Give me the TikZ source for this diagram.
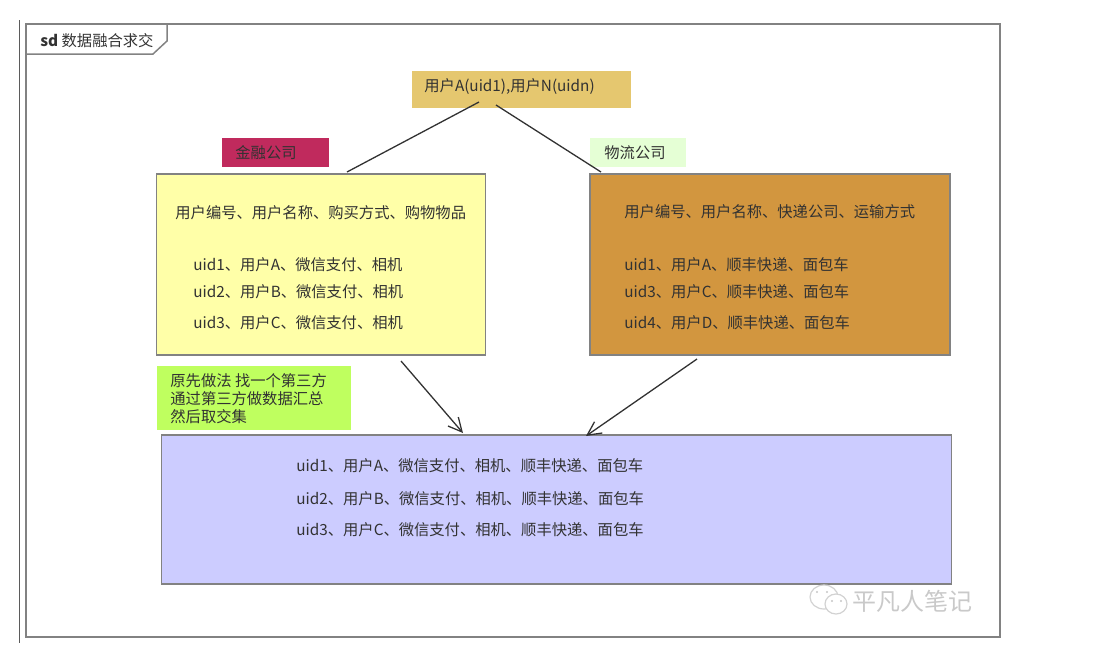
\documentclass[tikz,border=0pt]{standalone}
\usepackage{fontspec}
\setmainfont{Noto Sans CJK SC}
\definecolor{FrameGray}{RGB}{130,130,130}
\definecolor{InkGray}{RGB}{50,50,50}
\definecolor{UserGold}{RGB}{229,199,111}
\definecolor{FinanceRed}{RGB}{192,42,93}
\definecolor{LogisticsPale}{RGB}{229,255,213}
\definecolor{FinanceYellow}{RGB}{255,255,168}
\definecolor{LogisticsOrange}{RGB}{210,150,63}
\definecolor{NoteLime}{RGB}{191,255,95}
\definecolor{ResultLilac}{RGB}{204,204,255}
\usepackage{tikz}
\usetikzlibrary{
    arrows.meta,
    positioning
}

\begin{document}
\begin{tikzpicture}[
    x=0.5pt,
    y=-0.5pt,
%
    tag/.style={
        anchor=north west,
        inner sep=0pt,
        outer sep=0pt
    },
%
    table/.style={
        tag,
        draw=FrameGray,
        line width=0.55pt
    },
%
    line/.style={
        anchor=west,
        inner sep=0pt,
        text=InkGray,
        font=\fontsize{7.65pt}{9pt}\selectfont
    },
%
    link/.style={
        line width=0.65pt,
        color=InkGray
    },
%
    arrow/.style={
        -{Straight Barb[length=2.4mm,width=2.4mm]},
        line width=0.65pt,
        color=InkGray
    },
%
    bubble/.style={
        draw=gray!35,
        fill=white,
        line width=0.6pt
    }
]
%
% Page extent
%
\useasboundingbox (0,0) rectangle (1104,650);
%
% Outer frame and title tab
%
\draw[FrameGray!70!black,line width=0.5pt] (19,20) coordinate (rulea) -- (19,643) coordinate (ruleb);
\draw[FrameGray,line width=0.75pt] (26,24) rectangle (1000,637);
\draw[FrameGray,line width=0.75pt]
    (167,24)
    --
    (167,41)
    --
    (153,54)
    --
    (26,54);
\node[line] (title) at (40,40.5) {\textbf{sd} 数据融合求交};
%
% Users on top
%
\node[
    tag,
    fill=UserGold,
    minimum width=109.5pt,
    minimum height=18.5pt
] (users) at (412,71) {};
\node[line] (userstext) at (424,86.5) {用户A(uid1),用户N(uidn)};
%
% Company labels
%
\node[
    tag,
    fill=FinanceRed,
    minimum width=53.5pt,
    minimum height=14.5pt
] (fintag) at (222,138) {};
\node[line] (fintext) at (235,153) {金融公司};
%
\node[
    tag,
    fill=LogisticsPale,
    minimum width=48pt,
    minimum height=14.5pt
] (logtag) at (590,138) {};
\node[line] (logtext) at (604,152.5) {物流公司};
%
% Finance table
%
\node[
    table,
    fill=FinanceYellow,
    minimum width=164.5pt,
    minimum height=90.5pt
] (finance) at (156.5,174) {};
\node[line] (finhead) at (175,212.5) {用户编号、用户名称、购买方式、购物物品};
\node[line] (finone) at (193,264.5) {uid1、用户A、微信支付、相机};
\node[line] (fintwo) at (193,291.5) {uid2、用户B、微信支付、相机};
\node[line] (finthree) at (193,322.5) {uid3、用户C、微信支付、相机};
%
% Logistics table
%
\node[
    table,
    fill=LogisticsOrange,
    minimum width=180pt,
    minimum height=90.5pt
] (logistics) at (590,174) {};
\node[line] (loghead) at (624,211.5) {用户编号、用户名称、快递公司、运输方式};
\node[line] (logone) at (624,264.5) {uid1、用户A、顺丰快递、面包车};
\node[line] (logtwo) at (624,291.5) {uid3、用户C、顺丰快递、面包车};
\node[line] (logthree) at (624,322.5) {uid4、用户D、顺丰快递、面包车};
%
% Note on the old approach
%
\node[
    tag,
    fill=NoteLime,
    minimum width=97pt,
    minimum height=32pt
] (note) at (157,366) {};
\node[line] (noteone) at (170,381) {原先做法 找一个第三方};
\node[line] (notetwo) at (170,399) {通过第三方做数据汇总};
\node[line] (notethree) at (170,417) {然后取交集};
%
% Merged result
%
\node[
    table,
    fill=ResultLilac,
    minimum width=395pt,
    minimum height=74.5pt
] (result) at (161.5,435) {};
\node[line] (resone) at (296,465.5) {uid1、用户A、微信支付、相机、顺丰快递、面包车};
\node[line] (restwo) at (296,498.5) {uid2、用户B、微信支付、相机、顺丰快递、面包车};
\node[line] (resthree) at (296,529.5) {uid3、用户C、微信支付、相机、顺丰快递、面包车};
%
% Connectors
%
\coordinate (usersl) at (479,102);
\coordinate (usersr) at (496,105);
\coordinate (finin) at (347,172);
\coordinate (login) at (601,172);
\coordinate (finout) at (401,361);
\coordinate (logout) at (697,359);
\coordinate (resl) at (463,433);
\coordinate (resr) at (586,436);
%
\draw[link] (usersl) -- (finin);
\draw[link] (usersr) -- (login);
\draw[arrow] (finout) -- (resl);
\draw[arrow] (logout) -- (resr);
%
% Watermark
%
\draw[bubble] (824,597) ellipse (14 and 12);
\draw[bubble] (836,604) ellipse (11 and 10);
\foreach \dotx/\doty in {817/592, 827/592, 832/601, 841/601} {
    \fill[gray!45] (\dotx,\doty) circle (1.2);
}
\node[
    line,
    text=gray!42,
    font=\fontsize{12pt}{14pt}\selectfont
] (mark) at (852,601) {平凡人笔记};
%
\end{tikzpicture}
\end{document}
